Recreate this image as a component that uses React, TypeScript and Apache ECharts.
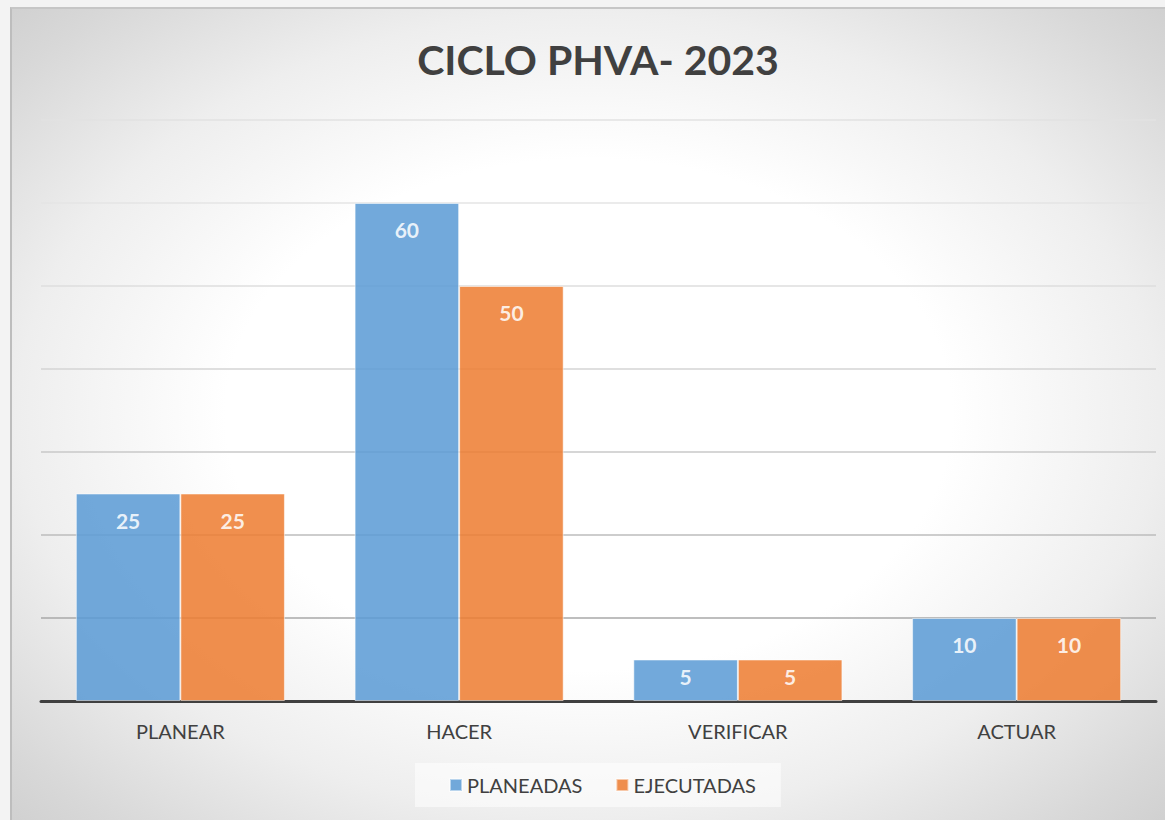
import React, { useEffect, useRef } from "react";
import * as echarts from "echarts";

const categories = ["PLANEAR", "HACER", "VERIFICAR", "ACTUAR"];
const planeadas = [25, 60, 5, 10];
const ejecutadas = [25, 50, 5, 10];
const seriesNames = ["PLANEADAS", "EJECUTADAS"];
const titleText = "CICLO PHVA- 2023";
const gridColors = ["#8c8c8c", "#a8a8a8", "#bcbcbc", "#c8c8c8", "#d4d4d4", "#dedede", "#e4e4e4", "#e2e2e2"];

const FONT = "Lato, 'Open Sans', sans-serif";

function toData(vals: number[]) {
  return vals.map((v) => (v < 8 ? { value: v, label: { distance: 6 } } : v));
}

export default function App() {
  const ref = useRef<HTMLDivElement>(null);
  useEffect(() => {
    if (!ref.current) return;
    const chart = echarts.init(ref.current, undefined, { renderer: "svg" });
    const label = {
      show: true,
      position: "insideTop",
      distance: 16,
      color: "#ffffff",
      fontFamily: FONT,
      fontWeight: "bold",
      fontSize: 21,
    };
    chart.setOption({
      animation: false,
      backgroundColor: {
        type: "radial",
        x: 0.5,
        y: 0.5,
        r: 0.9,
        colorStops: [
          { offset: 0, color: "#ffffff" },
          { offset: 0.35, color: "#ffffff" },
          { offset: 0.55, color: "#eeeeee" },
          { offset: 0.72, color: "#d8d8d8" },
          { offset: 0.88, color: "#c6c6c6" },
          { offset: 1, color: "#c0c0c0" },
        ],
      },
      title: {
        text: titleText,
        left: 581,
        textAlign: "center",
        top: 25,
        textStyle: { fontFamily: FONT, fontWeight: "bold", fontSize: 41, color: "#404040" },
      },
      legend: {
        data: seriesNames,
        left: 403,
        top: 754,
        padding: [12, 25, 12, 34],
        backgroundColor: "rgba(255,255,255,0.55)",
        itemWidth: 12,
        itemHeight: 12,
        itemGap: 33,
        icon: "rect",
        textStyle: { fontFamily: FONT, fontSize: 20, color: "#404040" },
      },
      grid: { left: 29, right: 9, top: 111, bottom: 119, containLabel: false },
      xAxis: {
        type: "category",
        data: categories,
        axisTick: { show: false },
        axisLine: { lineStyle: { color: "#404040", width: 3 } },
        axisLabel: { margin: 20, fontFamily: FONT, fontSize: 20, color: "#404040" },
      },
      yAxis: {
        type: "value",
        min: 0,
        max: 70,
        interval: 10,
        axisLabel: { show: false },
        axisLine: { show: false },
        axisTick: { show: false },
        splitLine: { lineStyle: { color: gridColors, width: 1.5 } },
      },
      series: [
        {
          name: seriesNames[0],
          type: "bar",
          data: toData(planeadas),
          barGap: "0%",
          barCategoryGap: "25%",
          itemStyle: { color: "#5b9bd5", opacity: 0.86, borderColor: "rgba(255,255,255,0.6)", borderWidth: 1 },
          label,
        },
        {
          name: seriesNames[1],
          type: "bar",
          data: toData(ejecutadas),
          barGap: "0%",
          barCategoryGap: "25%",
          itemStyle: { color: "#ed7d31", opacity: 0.86, borderColor: "rgba(255,255,255,0.6)", borderWidth: 1 },
          label,
        },
      ],
    });
    return () => chart.dispose();
  }, []);
  return (
    <div style={{ position: "fixed", left: 0, top: 0, width: 1165, height: 820, background: "#f3f3f3", overflow: "hidden" }}>
      <div style={{ position: "absolute", left: 10, top: 7, width: 1160, height: 820, borderTop: "2px solid #c6c6c6", borderLeft: "2px solid #bdbdbd" }} />
      <div ref={ref} style={{ position: "absolute", left: 12, top: 9, width: 1153, height: 811 }} />
    </div>
  );
}
